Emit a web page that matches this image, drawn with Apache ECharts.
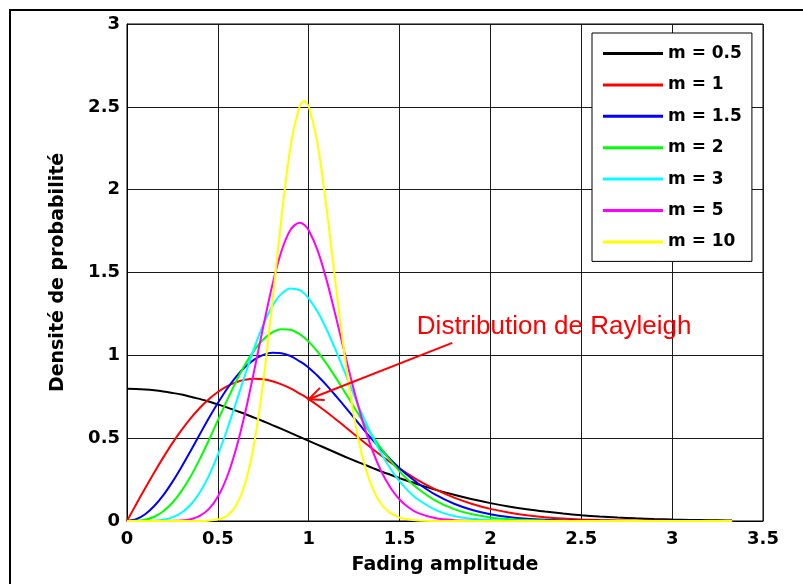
<!DOCTYPE html>
<html>
<head>
<meta charset="utf-8">
<script src="https://cdn.jsdelivr.net/npm/echarts@6/dist/echarts.min.js"></script>
<style>
html,body{margin:0;padding:0;background:#fff;}
#chart{width:803px;height:584px;}
</style>
</head>
<body>
<div id="chart"></div>
<script>
// Fading amplitude sample points
var xs = [0,0.05,0.1,0.15,0.2,0.25,0.3,0.35,0.4,0.45,0.5,0.55,0.6,0.65,0.7,0.75,0.8,0.85,0.9,0.95,0.975,1,1.05,1.1,1.15,1.2,1.25,1.3,1.35,1.4,1.45,1.5,1.55,1.6,1.7,1.8,1.9,2,2.1,2.2,2.3,2.4,2.5,2.6,2.7,2.8,2.9,3,3.1,3.2,3.3,3.33];

// Probability density
var m05 = [0.798,0.797,0.794,0.789,0.782,0.773,0.763,0.750,0.737,0.721,0.704,0.686,0.666,0.646,0.624,0.602,0.579,0.556,0.532,0.508,0.496,0.484,0.460,0.436,0.412,0.388,0.365,0.343,0.321,0.299,0.279,0.259,0.240,0.222,0.188,0.158,0.131,0.108,0.088,0.071,0.057,0.045,0.035,0.027,0.021,0.016,0.012,0.0089,0.0065,0.0048,0.0034,0.0031];
var m1 = [0,0.0998,0.198,0.293,0.384,0.470,0.548,0.619,0.682,0.735,0.779,0.813,0.837,0.852,0.858,0.855,0.844,0.825,0.801,0.769,0.754,0.736,0.697,0.656,0.613,0.569,0.524,0.480,0.436,0.394,0.354,0.316,0.281,0.247,0.189,0.141,0.103,0.0733,0.0511,0.0348,0.0232,0.0151,0.0097,0.0060,0.0037,0.0022,0.0013,0.0007,0.0004,0.0002,0.0001,0.0001];
var m15 = [0,0.0103,0.0408,0.0902,0.156,0.236,0.326,0.423,0.522,0.620,0.712,0.797,0.870,0.929,0.974,1.003,1.016,1.013,0.996,0.964,0.947,0.925,0.875,0.817,0.754,0.689,0.622,0.555,0.491,0.430,0.372,0.319,0.271,0.228,0.157,0.104,0.0666,0.0411,0.0245,0.0141,0.0079,0.0042,0.0022,0.0011,0.0005,0.0002,0.0001,0,0,0,0,0];
var m2 = [0,0.001,0.0078,0.0258,0.0591,0.110,0.180,0.268,0.372,0.486,0.607,0.727,0.841,0.944,1.030,1.096,1.139,1.158,1.154,1.128,1.108,1.083,1.021,0.947,0.864,0.776,0.687,0.598,0.514,0.436,0.364,0.300,0.244,0.196,0.121,0.0716,0.0402,0.0215,0.0110,0.0053,0.0025,0.0011,0.0005,0.0002,0.0001,0,0,0,0,0,0,0];
var m3 = [0,0,0.0003,0.0019,0.0077,0.0219,0.0501,0.0982,0.171,0.271,0.399,0.548,0.713,0.882,1.043,1.185,1.297,1.371,1.404,1.394,1.374,1.344,1.261,1.153,1.028,0.894,0.759,0.630,0.511,0.406,0.315,0.240,0.179,0.131,0.0659,0.0307,0.0132,0.0053,0.0020,0.0007,0.0002,0.0001,0,0,0,0,0,0,0,0,0,0];
var m5 = [0,0,0,0,0.0001,0.0007,0.0033,0.0111,0.0307,0.0716,0.146,0.264,0.434,0.652,0.907,1.174,1.425,1.628,1.758,1.801,1.788,1.755,1.631,1.448,1.231,1.003,0.785,0.591,0.428,0.298,0.201,0.130,0.0816,0.0494,0.0162,0.0048,0.0012,0.0003,0.0001,0,0,0,0,0,0,0,0,0,0,0,0,0];
var m10 = [0,0,0,0,0,0,0,0,0.0003,0.0019,0.0086,0.0312,0.0918,0.225,0.468,0.840,1.320,1.830,2.260,2.503,2.534,2.502,2.269,1.874,1.416,0.981,0.626,0.369,0.201,0.101,0.0474,0.0207,0.0084,0.0032,0.0004,0,0,0,0,0,0,0,0,0,0,0,0,0,0,0,0,0];

var seriesNames = ['m = 0.5','m = 1','m = 1.5','m = 2','m = 3','m = 5','m = 10'];
var seriesValues = [m05, m1, m15, m2, m3, m5, m10];
var seriesColors = ['#000000','#ff0000','#0000ff','#00ff00','#00ffff','#ff00ff','#ffff00'];

// Axis ticks
var xMin = 0, xMax = 3.5, xStep = 0.5;
var yMin = 0, yMax = 3, yStep = 0.5;

// Annotation (data coordinates)
var noteText = 'Distribution de Rayleigh';
var noteAt = [1.595, 1.172];
var arrowFrom = [1.79, 1.075];
var arrowTo = [1.0, 0.735];

var boldFont = 'DejaVu Sans';

function pairs(vals){
  var out = [];
  for (var i = 0; i < xs.length; i++) out.push([xs[i], vals[i]]);
  return out;
}

var chart = echarts.init(document.getElementById('chart'), null, {renderer:'canvas'});

var series = seriesNames.map(function(n, i){
  return {
    name: n,
    type: 'line',
    data: pairs(seriesValues[i]),
    symbol: 'none',
    smooth: 0.3,
    lineStyle: {color: seriesColors[i], width: 2},
    itemStyle: {color: seriesColors[i]},
    emphasis: {disabled: true},
    animation: false,
    z: 3
  };
});

chart.setOption({
  animation: false,
  backgroundColor: '#ffffff',
  grid: {left:127, right:40, top:24, bottom:63, show:true, borderColor:'#000', borderWidth:1, backgroundColor:'#fff'},
  legend: {
    orient: 'vertical',
    left: 592, top: 33,
    padding: [12, 10, 11, 11],
    icon: 'rect',
    itemWidth: 60, itemHeight: 3, itemGap: 14.4,
    backgroundColor: '#fff',
    borderColor: '#000', borderWidth: 1,
    textStyle: {fontFamily: boldFont, fontWeight:'bold', fontSize: 17, color:'#000'},
    data: seriesNames,
    selectedMode: false,
    z: 10
  },
  xAxis: {
    type: 'value', min: xMin, max: xMax, interval: xStep,
    name: 'Fading amplitude', nameLocation: 'middle', nameGap: 44,
    nameTextStyle: {fontFamily: boldFont, fontWeight:'bold', fontSize: 19, color:'#000', verticalAlign:'middle'},
    axisLine: {show:true, lineStyle:{color:'#000', width:1}},
    axisTick: {show:false},
    axisLabel: {fontFamily: boldFont, fontWeight:'bold', fontSize: 18, color:'#000', margin: 9},
    splitLine: {show:true, lineStyle:{color:'#1a1a1a', width:1}}
  },
  yAxis: {
    type: 'value', min: yMin, max: yMax, interval: yStep,
    name: 'Densité de probabilité', nameLocation: 'middle', nameGap: 59, nameRotate: 90,
    nameTextStyle: {fontFamily: boldFont, fontWeight:'bold', fontSize: 19, color:'#000'},
    axisLine: {show:true, lineStyle:{color:'#000', width:1}},
    axisTick: {show:false},
    axisLabel: {fontFamily: boldFont, fontWeight:'bold', fontSize: 18, color:'#000', margin: 7},
    splitLine: {show:true, lineStyle:{color:'#1a1a1a', width:1}}
  },
  series: series
});

function px(p){ return chart.convertToPixel({gridIndex:0}, p); }
var tip = px(arrowTo), tail = px(arrowFrom), tpos = px(noteAt);
var dx = tail[0]-tip[0], dy = tail[1]-tip[1];
var len = Math.sqrt(dx*dx+dy*dy); dx/=len; dy/=len;
var L = 16, ang = 24*Math.PI/180;
function rot(a){ return [tip[0] + L*(dx*Math.cos(a) - dy*Math.sin(a)), tip[1] + L*(dx*Math.sin(a) + dy*Math.cos(a))]; }
var b1 = rot(ang), b2 = rot(-ang);

chart.setOption({
  graphic: [
    {type:'rect', z:100, silent:true, shape:{x:10, y:10, width:820, height:600}, style:{fill:'none', stroke:'#000', lineWidth:2}},
    {type:'line', z:50, silent:true, shape:{x1:tail[0], y1:tail[1], x2:tip[0], y2:tip[1]}, style:{stroke:'#ff0000', lineWidth:2}},
    {type:'polyline', z:50, silent:true, shape:{points:[b1, tip, b2]}, style:{stroke:'#ff0000', lineWidth:2, fill:'none'}},
    {type:'text', z:50, silent:true, x:tpos[0], y:tpos[1], style:{text:noteText, fill:'#ff0000', font:'26px "Liberation Sans", Arial, sans-serif', verticalAlign:'middle', align:'left'}}
  ]
});
</script>
</body>
</html>
